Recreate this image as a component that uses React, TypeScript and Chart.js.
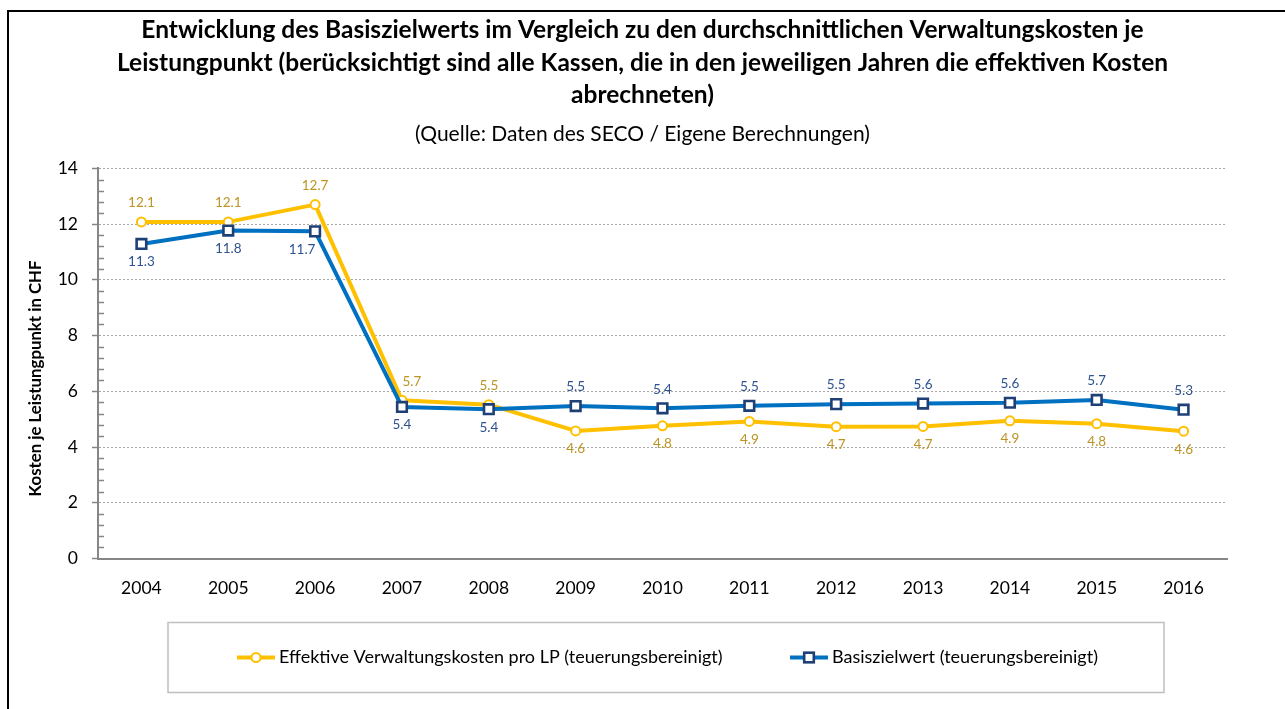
import React, { useEffect, useRef } from "react";
import { Chart, registerables } from "chart.js";

Chart.register(...registerables);

const years = ["2004", "2005", "2006", "2007", "2008", "2009", "2010", "2011", "2012", "2013", "2014", "2015", "2016"];
const effektiveKosten = [12.08, 12.08, 12.7, 5.68, 5.52, 4.58, 4.76, 4.92, 4.73, 4.74, 4.94, 4.84, 4.57];
const basiszielwert = [11.29, 11.77, 11.74, 5.44, 5.36, 5.47, 5.39, 5.48, 5.54, 5.56, 5.59, 5.69, 5.34];
const yTicks = [0, 2, 4, 6, 8, 10, 12, 14];

const titleLines = [
  "Entwicklung des Basiszielwerts im Vergleich zu den durchschnittlichen Verwaltungskosten je",
  "Leistungpunkt (berücksichtigt sind alle Kassen, die in den jeweiligen Jahren die effektiven Kosten",
  "abrechneten)",
];
const subtitleText = "(Quelle: Daten des SECO / Eigene Berechnungen)";
const yAxisTitle = "Kosten je Leistungpunkt in CHF";
const seriesNames = [
  "Effektive Verwaltungskosten pro LP (teuerungsbereinigt)",
  "Basiszielwert (teuerungsbereinigt)",
];

const FONT = "Lato, 'Open Sans', sans-serif";
const AXIS_GRAY = "#868686";
const labelColors = ["#BC9424", "#2E5290"];

const minorTicksPlugin = {
  id: "minorTicks",
  beforeDatasetsDraw(chart: any) {
    const y = chart.scales.y;
    const ctx = chart.ctx;
    ctx.save();
    ctx.strokeStyle = AXIS_GRAY;
    ctx.lineWidth = 1.5;
    for (let i = 0; i < yTicks.length - 1; i++) {
      const a = yTicks[i];
      const b = yTicks[i + 1];
      for (let k = 1; k < 5; k++) {
        const v = a + ((b - a) * k) / 5;
        const py = Math.round(y.getPixelForValue(v)) + 0.5;
        ctx.beginPath();
        ctx.moveTo(chart.chartArea.left, py);
        ctx.lineTo(chart.chartArea.left + 6, py);
        ctx.stroke();
      }
    }
    ctx.restore();
  },
};

// Labels go above the higher series and below the lower one; a label is nudged
// sideways when a steep segment of its own line runs through its spot.
const dataLabelsPlugin = {
  id: "dataLabels",
  afterDatasetsDraw(chart: any) {
    const ctx = chart.ctx;
    ctx.save();
    ctx.font = `13.5px ${FONT}`;
    ctx.textAlign = "center";
    ctx.textBaseline = "middle";
    const ds = chart.data.datasets;
    ds.forEach((d: any, i: number) => {
      const meta = chart.getDatasetMeta(i);
      const other = ds[1 - i].data;
      const vals = d.data;
      meta.data.forEach((pt: any, j: number) => {
        const v = vals[j];
        const above = v >= other[j];
        const prev = j > 0 ? vals[j - 1] : v;
        const next = j < vals.length - 1 ? vals[j + 1] : v;
        let dx = 0;
        if (above) {
          if (prev - v > 2) dx = 10;
          else if (next - v > 2) dx = -10;
        } else {
          if (v - next > 2) dx = -13;
          else if (v - prev > 2) dx = 13;
        }
        ctx.fillStyle = labelColors[i];
        ctx.fillText(v.toFixed(1), pt.x + dx, pt.y + (above ? -19 : 18));
      });
    });
    ctx.restore();
  },
};

const yTitlePlugin = {
  id: "yTitle",
  afterDraw(chart: any) {
    const ctx = chart.ctx;
    const a = chart.chartArea;
    ctx.save();
    ctx.translate(36, (a.top + a.bottom) / 2 + 15);
    ctx.rotate(-Math.PI / 2);
    ctx.font = `bold 16.8px ${FONT}`;
    ctx.fillStyle = "#000";
    ctx.textAlign = "center";
    ctx.textBaseline = "middle";
    ctx.fillText(yAxisTitle, 0, 0);
    ctx.restore();
  },
};

const legendBoxPlugin = {
  id: "legendBox",
  afterDraw(chart: any) {
    const ctx = chart.ctx;
    const a = chart.chartArea;
    const left = a.left + 70;
    const right = a.right - 63;
    const top = a.bottom + 64;
    const h = 70;
    ctx.save();
    ctx.strokeStyle = "#BFBFBF";
    ctx.lineWidth = 1.5;
    ctx.strokeRect(left, top, right - left, h);
    const cy = top + 35;
    const starts = [69, 622];
    chart.data.datasets.forEach((d: any, i: number) => {
      const x0 = left + starts[i];
      ctx.strokeStyle = d.borderColor;
      ctx.lineWidth = 4;
      ctx.beginPath();
      ctx.moveTo(x0, cy);
      ctx.lineTo(x0 + 38, cy);
      ctx.stroke();
      ctx.fillStyle = "#fff";
      ctx.strokeStyle = d.pointBorderColor;
      ctx.lineWidth = d.pointBorderWidth;
      if (d.pointStyle === "circle") {
        ctx.beginPath();
        ctx.arc(x0 + 19, cy, d.pointRadius, 0, Math.PI * 2);
        ctx.fill();
        ctx.stroke();
      } else {
        const s = d.pointRadius * Math.SQRT1_2;
        ctx.fillRect(x0 + 19 - s, cy - s, 2 * s, 2 * s);
        ctx.strokeRect(x0 + 19 - s, cy - s, 2 * s, 2 * s);
      }
      ctx.fillStyle = "#000";
      ctx.font = `18px ${FONT}`;
      ctx.textAlign = "left";
      ctx.textBaseline = "middle";
      ctx.fillText(d.label, x0 + 42, cy);
    });
    ctx.restore();
  },
};

export default function App() {
  const ref = useRef<HTMLCanvasElement | null>(null);

  useEffect(() => {
    if (!ref.current) return;
    const chart = new Chart(ref.current, {
      type: "line",
      data: {
        labels: years,
        datasets: [
          {
            label: seriesNames[0],
            data: effektiveKosten,
            borderColor: "#FFC000",
            backgroundColor: "#FFC000",
            borderWidth: 4,
            borderJoinStyle: "round",
            pointStyle: "circle",
            pointRadius: 4.5,
            pointHoverRadius: 4.5,
            pointBorderWidth: 2,
            pointBackgroundColor: "#FFFFFF",
            pointBorderColor: "#FFC000",
            tension: 0,
            order: 1,
          },
          {
            label: seriesNames[1],
            data: basiszielwert,
            borderColor: "#0070C0",
            backgroundColor: "#0070C0",
            borderWidth: 4,
            borderJoinStyle: "round",
            pointStyle: "rect",
            pointRadius: 6.8,
            pointHoverRadius: 6.8,
            pointBorderWidth: 2.6,
            pointBackgroundColor: "#FFFFFF",
            pointBorderColor: "#1F3F77",
            tension: 0,
            order: 0,
          },
        ],
      } as any,
      options: {
        responsive: false,
        animation: false,
        layout: { padding: 0 },
        plugins: {
          legend: { display: false },
          tooltip: { enabled: false },
          title: {
            display: true,
            text: titleLines,
            color: "#000",
            font: { family: FONT, size: 24.5, weight: "bold", lineHeight: 1.336 },
            padding: { top: 13.5, bottom: 9.5 },
          },
          subtitle: {
            display: true,
            text: subtitleText,
            color: "#000",
            font: { family: FONT, size: 21, lineHeight: 1.2 },
            padding: { top: 0, bottom: 22 },
          },
        },
        scales: {
          x: {
            type: "category",
            offset: true,
            grid: { display: false, drawTicks: false },
            border: { display: true, color: AXIS_GRAY, width: 2 },
            ticks: { color: "#000", font: { family: FONT, size: 17.5 }, padding: 19, maxRotation: 0 },
            afterFit: (s: any) => {
              s.height = 150.5;
            },
          },
          y: {
            min: 0,
            max: 14,
            afterBuildTicks: (s: any) => {
              s.ticks = yTicks.map((v) => ({ value: v }));
            },
            grid: {
              color: "#A6A6A6",
              lineWidth: 1,
              drawTicks: true,
              tickLength: 6,
              tickColor: AXIS_GRAY,
              tickWidth: 1.5,
              tickBorderDash: [],
            },
            border: { display: true, color: AXIS_GRAY, width: 2, dash: [2, 2] },
            ticks: { color: "#000", font: { family: FONT, size: 17.5 }, padding: 14 },
            afterFit: (s: any) => {
              s.width = 98;
            },
          },
          yRight: {
            position: "right",
            display: true,
            grid: { display: false, drawTicks: false },
            border: { display: false },
            ticks: { display: false },
            afterFit: (s: any) => {
              s.width = 58;
            },
          },
        },
      } as any,
      plugins: [minorTicksPlugin, dataLabelsPlugin, yTitlePlugin, legendBoxPlugin],
    });
    return () => chart.destroy();
  }, []);

  return (
    <div style={{ position: "fixed", left: 0, top: 0, width: 1285, height: 709, overflow: "hidden", background: "#fff" }}>
      <div
        style={{
          position: "absolute",
          left: 7,
          top: 10,
          width: 1290,
          height: 710,
          borderLeft: "2px solid #000",
          borderTop: "2px solid #000",
        }}
      />
      <canvas ref={ref} width={1285} height={709} style={{ position: "absolute", left: 0, top: 0 }} />
    </div>
  );
}
